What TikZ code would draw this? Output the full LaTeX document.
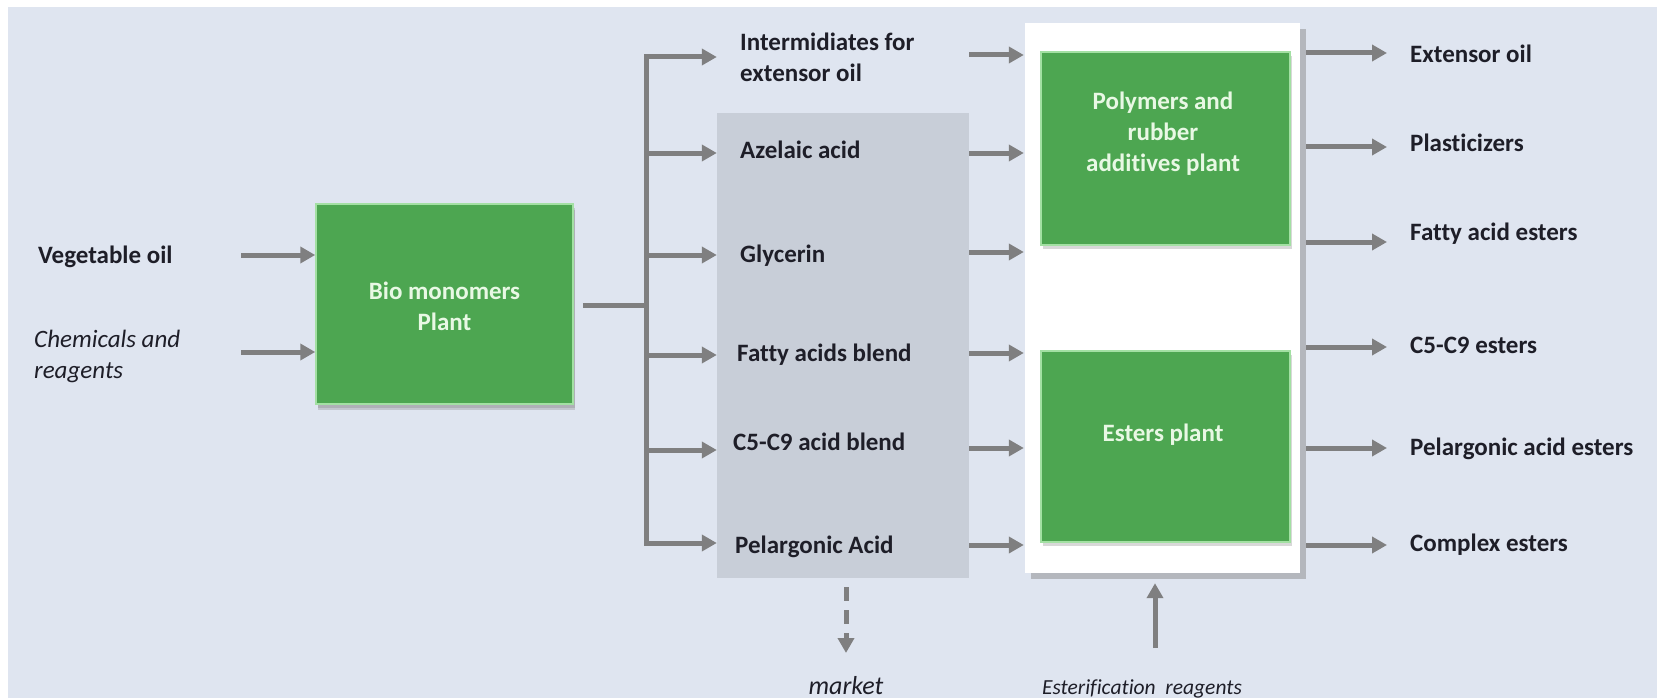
\documentclass[tikz,border=0pt]{standalone}
\usepackage{fontspec}
\setmainfont{Carlito}[RawFeature=-liga]
\usetikzlibrary{arrows.meta,shadows}
\definecolor{bgc}{HTML}{DFE5F0}
\definecolor{greyc}{HTML}{C8CED8}
\definecolor{greenc}{HTML}{4DA651}
\definecolor{greenedge}{HTML}{A3E0A3}
\definecolor{arrc}{HTML}{7F7F80}
\definecolor{txtc}{HTML}{1E1E28}
\definecolor{gtxt}{HTML}{E8F8E4}
\begin{document}
\begin{tikzpicture}[x=1pt,y=-1pt,
  lbl/.style={font=\fontsize{25}{31}\selectfont\bfseries, text=txtc, inner sep=0pt, anchor=base west},
  mlbl/.style={font=\fontsize{25}{31}\selectfont\bfseries, text=txtc, inner sep=0pt, anchor=west, align=left},
  itl/.style={font=\fontsize{25}{31}\selectfont\itshape, text=txtc, inner sep=0pt, align=left},
  greenbox/.style={rectangle, fill=greenc, draw=greenedge, line width=1.5pt, inner sep=0pt,
    drop shadow={shadow xshift=2pt, shadow yshift=-4pt, opacity=0.3}},
  gtext/.style={font=\fontsize{25}{31}\selectfont\bfseries, text=gtxt, align=center, inner sep=0pt},
  arr/.style={draw=arrc, line width=5pt, -{Triangle[length=15pt,width=16pt]}},
  ln/.style={draw=arrc, line width=5pt},
]
% background
\fill[white] (0,0) rectangle (1662,698);
\fill[bgc] (8,7) rectangle (1657,698);
\useasboundingbox (0,0) rectangle (1662,698);

% ---- left part
\node[greenbox, minimum width=257pt, minimum height=200pt,
      drop shadow={shadow xshift=2pt, shadow yshift=-6pt, opacity=0.3}] (bio) at (444.5,304) {};
\node[gtext] (biot) at (444.5,306) {Bio monomers\\Plant};

\node[lbl] (veg) at (38,263) {Vegetable oil};
\node[itl, anchor=west] (chem) at (34,356) {Chemicals and\\reagents};
\coordinate (vegtail) at (241,255);
\coordinate (chemtail) at (241,352);
\draw[arr] (vegtail) -- (vegtail -| bio.west);
\draw[arr] (chemtail) -- (chemtail -| bio.west);

% ---- bus
\coordinate (busj) at (646,305);
\coordinate (bt) at (646,57);
\coordinate (bb) at (646,543);
\draw[ln] ([xshift=9pt]bio.east |- busj) -- (busj);
\draw[ln, line cap=rect] (bt) -- (bb);

% ---- grey box
\node[fill=greyc, minimum width=252pt, minimum height=465pt, inner sep=0pt] (mid) at (843,345.5) {};

\node[mlbl] (inter) at (740,57) {Intermidiates for\\extensor oil};
\node[lbl] (aze) at (740,158) {Azelaic acid};
\node[lbl] (gly) at (740,262) {Glycerin};
\node[lbl] (fab) at (737,361) {Fatty acids blend};
\node[lbl] (c59) at (733,450) {C5-C9 acid blend};
\node[lbl] (pel) at (735,553) {Pelargonic Acid};

\coordinate (r1) at (0,153);
\coordinate (r2) at (0,255);
\coordinate (r3) at (0,355);
\coordinate (r4) at (0,450);
\coordinate (r5) at (0,543);
\draw[arr] (bt) -- (bt -| mid.west);
\foreach \r in {r1,r2,r3,r4,r5} {
  \draw[arr] (bt |- \r) -- (mid.west |- \r);
}

% ---- plants panel
\node[fill=white, minimum width=275pt, minimum height=550pt, inner sep=0pt,
      drop shadow={shadow xshift=6pt, shadow yshift=-6pt, opacity=0.45}] (panel) at (1162.5,298) {};
\node[greenbox, minimum width=249pt, minimum height=193pt] (poly) at (1165.5,148.5) {};
\node[greenbox, minimum width=249pt, minimum height=191pt] (est) at (1165.5,446.5) {};
\node[gtext] (polyt) at (1163,133.5) {Polymers and\\rubber\\additives plant};
\node[gtext, anchor=base] (estt) at (1163,441) {Esters plant};

\coordinate (p0) at (0,55);
\coordinate (p1) at (0,153);
\coordinate (p2) at (0,252);
\coordinate (p3) at (0,353);
\coordinate (p4) at (0,448);
\coordinate (p5) at (0,545);
\foreach \r in {p0,p1,p2,p3,p4,p5} {
  \draw[arr] (mid.east |- \r) -- ([xshift=-1pt]panel.west |- \r);
}

% ---- outputs
\node[lbl] (o0) at (1410,63) {Extensor oil};
\node[lbl] (o1) at (1410,151) {Plasticizers};
\node[lbl] (o2) at (1410,240) {Fatty acid esters};
\node[lbl] (o3) at (1410,353) {C5-C9 esters};
\node[lbl] (o4) at (1410,455) {Pelargonic acid esters};
\node[lbl] (o5) at (1410,551) {Complex esters};

\coordinate (q0) at (1387,53);
\coordinate (q1) at (1387,147);
\coordinate (q2) at (1387,242);
\coordinate (q3) at (1387,347);
\coordinate (q4) at (1387,448);
\coordinate (q5) at (1387,545);
\foreach \r in {q0,q1,q2,q3,q4,q5} {
  \draw[arr] ([xshift=6pt]panel.east |- \r) -- (\r);
}

% ---- bottom
\node[itl, anchor=base, font=\fontsize{26}{31}\selectfont\itshape] (market) at (846,694) {market};
\coordinate (mtip) at (846,653);
\draw[arr, dash pattern=on 14pt off 9pt] ([yshift=-9pt]mid.south -| mtip) -- (mtip);

\node[itl, anchor=base, font=\fontsize{21.5}{25}\selectfont\itshape] (esterr) at (1142,694) {Esterification\ \ reagents};
\coordinate (etail) at (1155,648);
\draw[arr] (etail) -- ([yshift=-10pt]panel.south -| etail);
\end{tikzpicture}
\end{document}
